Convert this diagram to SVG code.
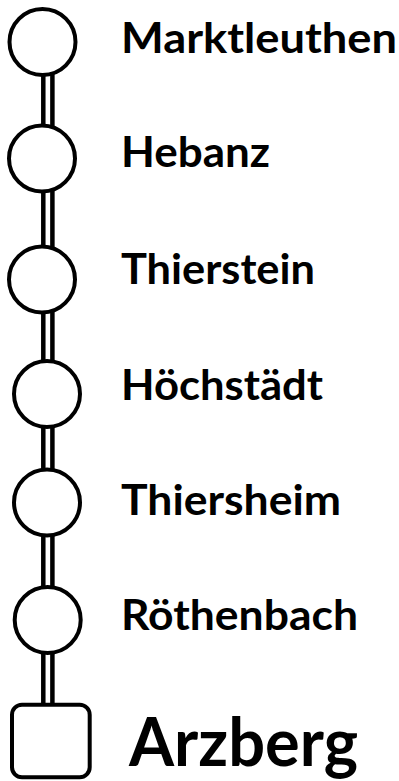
<svg xmlns="http://www.w3.org/2000/svg" width="399" height="781" viewBox="0 0 399 781">
<style>
.node{fill:#fff;stroke:#000;stroke-width:4}
.rail{stroke:#000;stroke-width:4.5;fill:none}
.lbl{font-family:Lato,"Open Sans","Liberation Sans",sans-serif;font-weight:bold;font-size:42px;fill:#000}
.big{font-size:67px}
</style>
<rect width="399" height="781" fill="#fff"/>
<g id="connectors">
<g id="e1"><line class="rail" x1="43.3" y1="70" x2="43.3" y2="130"/><line class="rail" x1="52.4" y1="70" x2="52.4" y2="130"/></g>
<g id="e2"><line class="rail" x1="43.3" y1="185" x2="43.3" y2="252"/><line class="rail" x1="52.4" y1="185" x2="52.4" y2="252"/></g>
<g id="e3"><line class="rail" x1="43.3" y1="305" x2="43.3" y2="366"/><line class="rail" x1="52.4" y1="305" x2="52.4" y2="366"/></g>
<g id="e4"><line class="rail" x1="43.3" y1="420" x2="43.3" y2="475"/><line class="rail" x1="52.4" y1="420" x2="52.4" y2="475"/></g>
<g id="e5"><line class="rail" x1="43.3" y1="530" x2="43.3" y2="592"/><line class="rail" x1="52.4" y1="530" x2="52.4" y2="592"/></g>
<g id="e6"><line class="rail" x1="43.3" y1="648" x2="43.3" y2="710"/><line class="rail" x1="52.4" y1="648" x2="52.4" y2="710"/></g>
</g>
<g id="n1"><circle class="node" cx="42.5" cy="42" r="33"/><text class="lbl" x="121" y="52.7" textLength="276" lengthAdjust="spacingAndGlyphs">Marktleuthen</text></g>
<g id="n2"><circle class="node" cx="42" cy="158.5" r="33"/><text class="lbl" x="121" y="166.7" textLength="149" lengthAdjust="spacingAndGlyphs">Hebanz</text></g>
<g id="n3"><circle class="node" cx="42" cy="279.5" r="33"/><text class="lbl" x="121" y="284" textLength="194" lengthAdjust="spacingAndGlyphs">Thierstein</text></g>
<g id="n4"><circle class="node" cx="47" cy="394" r="33"/><text class="lbl" x="121" y="400" textLength="202" lengthAdjust="spacingAndGlyphs">Höchstädt</text></g>
<g id="n5"><circle class="node" cx="47" cy="502.5" r="33"/><text class="lbl" x="121" y="515" textLength="220" lengthAdjust="spacingAndGlyphs">Thiersheim</text></g>
<g id="n6"><circle class="node" cx="47.7" cy="620" r="33"/><text class="lbl" x="121" y="630" textLength="237" lengthAdjust="spacingAndGlyphs">Röthenbach</text></g>
<g id="n7"><rect class="node" x="12" y="704.7" width="77.7" height="72.6" rx="10"/><text class="lbl big" x="129" y="766" textLength="229" lengthAdjust="spacingAndGlyphs">Arzberg</text></g>
</svg>
